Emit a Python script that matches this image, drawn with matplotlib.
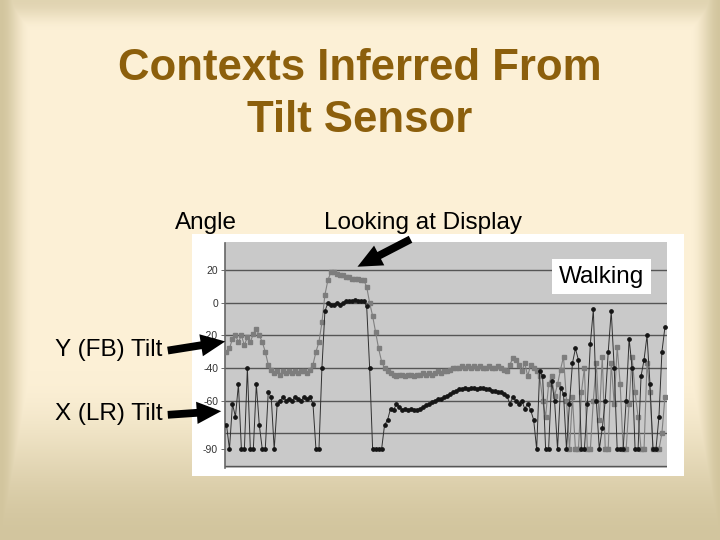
import numpy as np
import matplotlib
matplotlib.use("Agg")
import matplotlib.pyplot as plt
from matplotlib.patches import Rectangle, FancyArrowPatch

# ---------------- data ----------------
title_lines = ["Contexts Inferred From", "Tilt Sensor"]
ytick_values = [20, 0, -20, -40, -60, -90]
ytick_labels = ["20", "0", "-20", "-40", "-60", "-90"]
grid_values = [20, 0, -20, -40, -60, -80, -100]

# Y (FB) tilt (gray squares), one sample per time step
y_fb = [
    -30, -28, -22, -20, -24, -20, -26, -21, -24, -19,
    -16, -20, -24, -30, -38, -41, -43, -42, -44, -42,
    -43, -42, -43, -42, -43, -42, -42, -43, -41, -38,
    -30, -24, -12, 5, 14, 19, 19, 18, 17, 17,
    16, 16, 15, 15, 15, 14, 14, 10, 0, -8,
    -18, -28, -36, -40, -42, -43, -44, -45, -44, -44,
    -45, -44, -44, -45, -44, -44, -43, -44, -43, -44,
    -43, -42, -43, -42, -42, -41, -40, -40, -40, -39,
    -40, -39, -40, -39, -40, -39, -40, -40, -39, -40,
    -40, -39, -40, -41, -42, -38, -34, -35, -38, -42,
    -37, -45, -38, -40, -42, -45, -60, -70, -50, -45,
    -57, -50, -41, -33, -60, -90, -58, -90, -90, -55,
    -40, -90, -90, -60, -37, -72, -33, -90, -90, -37,
    -62, -27, -50, -90, -90, -62, -33, -55, -70, -90,
    -90, -37, -55, -90, -90, -90, -80, -58,
]

# X (LR) tilt (black dots)
x_lr = [
    -75, -90, -62, -70, -50, -90, -90, -40, -90, -90,
    -50, -75, -90, -90, -55, -58, -90, -62, -60, -58,
    -60, -59, -60, -58, -59, -60, -58, -59, -58, -62,
    -90, -90, -40, -5, 0, -1, -1, 0, -1, 0,
    1, 1, 1, 2, 1, 1, 1, -2, -40, -90,
    -90, -90, -90, -75, -72, -65, -66, -62, -64, -66,
    -65, -66, -65, -66, -66, -65, -64, -63, -62, -61,
    -60, -59, -59, -58, -57, -56, -55, -54, -53, -53,
    -52, -53, -52, -52, -53, -52, -52, -53, -53, -54,
    -54, -55, -55, -56, -57, -62, -58, -60, -62, -60,
    -65, -62, -66, -72, -90, -42, -45, -90, -90, -48,
    -60, -90, -52, -56, -90, -62, -37, -28, -35, -90,
    -90, -62, -25, -4, -60, -90, -77, -60, -30, -5,
    -40, -90, -90, -90, -60, -22, -40, -90, -90, -45,
    -35, -20, -50, -90, -90, -70, -30, -15,
]

# ---------------- figure ----------------
W, H = 720, 540
fig = plt.figure(figsize=(7.2, 5.4), dpi=100)

# background gradient (slide template)
bg = fig.add_axes([0, 0, 1, 1], zorder=0)
bg.set_axis_off()
yy, xx = np.mgrid[0:H, 0:W].astype(float)
def smooth(t):
    t = np.clip(t, 0, 1)
    return t * t * (3 - 2 * t)
f_left = smooth(xx / 30.0)
f_right = smooth((W - xx) / 30.0)
f_top = 0.35 + 0.65 * smooth(yy / 30.0)
f_bot = smooth((H - yy) / 170.0)
f = np.minimum(np.minimum(f_left, f_right), np.minimum(f_top, f_bot))
center = np.array([252, 240, 214]) / 255.0
edge = np.array([210, 197, 158]) / 255.0
img = edge[None, None, :] * (1 - f[..., None]) + center[None, None, :] * f[..., None]
bg.imshow(img, extent=[0, W, H, 0], aspect="auto")
bg.set_xlim(0, W)
bg.set_ylim(H, 0)

# white chart box
bg.add_patch(Rectangle((192, 234), 684 - 192, 476 - 234, facecolor="white",
                       edgecolor="none", zorder=2))

# plot axes
left, right, top, bottom = 225, 667, 242, 468
ax = fig.add_axes([left / W, 1 - bottom / H, (right - left) / W, (bottom - top) / H], zorder=1)
ax.set_facecolor("#c9c9c9")
n = len(y_fb)
t = np.arange(n)
for g in grid_values:
    ax.axhline(g, color="#555555", lw=1.0, zorder=1)
ax.plot(t, y_fb, color="#808080", lw=0.8, marker="s", ms=3.4, mec="#7d7d7d",
        mfc="#7d7d7d", zorder=3)
ax.plot(t, x_lr, color="#303030", lw=0.7, marker="o", ms=2.4, mec="#151515",
        mfc="#151515", zorder=4)
ax.set_xlim(-0.5, n - 0.3)
ax.set_ylim(-101.5, 37.5)
ax.set_xticks([])
ax.set_yticks(ytick_values)
ax.set_yticklabels(ytick_labels, fontsize=7.5, color="#333333", family="Liberation Sans")
ax.tick_params(axis="y", length=3, width=0.6, color="#555555", pad=2)
for s in ["top", "right", "bottom"]:
    ax.spines[s].set_visible(False)
ax.spines["left"].set_color("#666666")
ax.spines["left"].set_linestyle((0, (1, 1)))
ax.spines["left"].set_linewidth(1.2)

# overlay for text and arrows
ov = fig.add_axes([0, 0, 1, 1], zorder=5)
ov.set_axis_off()
ov.set_xlim(0, W)
ov.set_ylim(H, 0)

title_color = "#8c5f0c"
ov.text(360, 69, title_lines[0], ha="center", va="center", fontsize=31.5,
        fontweight="bold", color=title_color, family="Liberation Sans")
ov.text(360, 121, title_lines[1], ha="center", va="center", fontsize=31.5,
        fontweight="bold", color=title_color, family="Liberation Sans")

lab_fs = 17.5
ov.text(206, 223, "Angle", ha="center", va="center", fontsize=lab_fs,
        family="Liberation Sans", color="black")
ov.text(423, 223, "Looking at Display", ha="center", va="center", fontsize=lab_fs,
        family="Liberation Sans", color="black")
ov.text(109, 350, "Y (FB) Tilt", ha="center", va="center", fontsize=lab_fs,
        family="Liberation Sans", color="black")
ov.text(109, 414, "X (LR) Tilt", ha="center", va="center", fontsize=lab_fs,
        family="Liberation Sans", color="black")
ov.add_patch(Rectangle((552, 259), 99, 35, facecolor="white", edgecolor="none", zorder=3))
ov.text(602, 277, "Walking", ha="center", va="center", fontsize=lab_fs,
        family="Liberation Sans", color="black", zorder=4)

arrow_kw = dict(arrowstyle="simple,head_width=1.0,head_length=1.1,tail_width=0.35",
                mutation_scale=16, color="black", lw=0, zorder=6)
ov.add_patch(FancyArrowPatch((165, 351), (228, 341), **arrow_kw))
ov.add_patch(FancyArrowPatch((165, 415), (224, 411), **arrow_kw))
ov.add_patch(FancyArrowPatch((413, 238), (355, 268), **arrow_kw))

fig.savefig("out.png", dpi=100)
